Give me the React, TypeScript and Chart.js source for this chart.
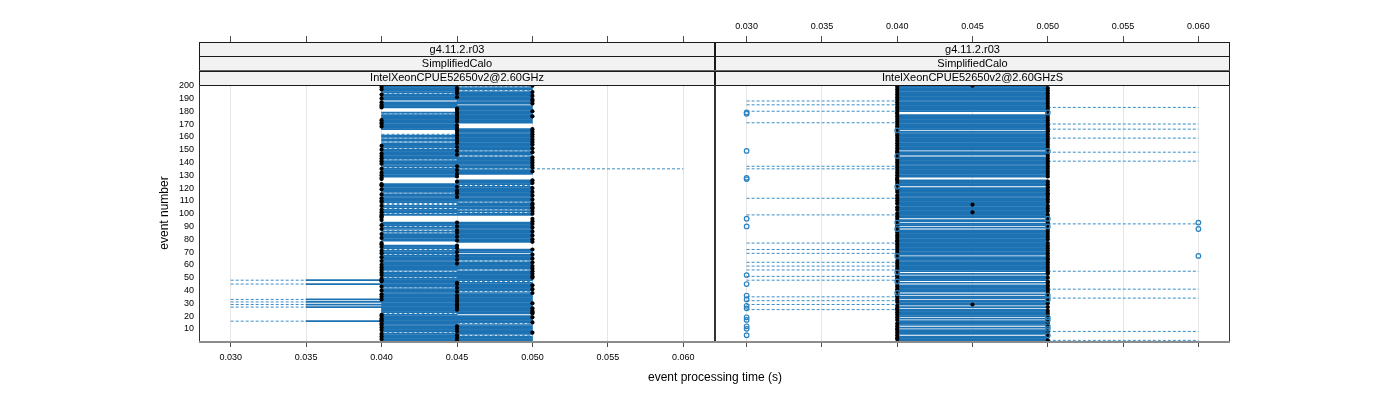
import React, { useEffect, useRef } from "react";
import { Chart, registerables } from "chart.js";

Chart.register(...registerables);

// ---------- categories & ticks ----------
const events: number[] = Array.from({ length: 200 }, (_, i) => i + 1);
const xTickValues = [30, 35, 40, 45, 50, 55, 60]; // ms
const xTickLabels = ["0.030", "0.035", "0.040", "0.045", "0.050", "0.055", "0.060"];
const yTickValues = [10, 20, 30, 40, 50, 60, 70, 80, 90, 100, 110, 120, 130, 140, 150, 160, 170, 180, 190, 200];

const leftStrips = ["g4.11.2.r03", "SimplifiedCalo", "IntelXeonCPUE52650v2@2.60GHz"];
const rightStrips = ["g4.11.2.r03", "SimplifiedCalo", "IntelXeonCPUE52650v2@2.60GHzS"];
const xTitle = "event processing time (s)";
const yTitle = "event number";

// ---------- left panel (values in ms, event 1..200) ----------
const leftBoxLo = [
  40, 40, 40, 40, 40, 40, 45, 40, 40, 40, 40, 40, 40, 40, 40, 35, 40, 40, 40, 40,
  40, 45, 40, 40, 40, 40, 35, 40, 35, 40, 35, 40, 35, 40, 40, 40, 40, 40, 40, 40,
  40, 45, 40, 40, 35, 40, 40, 35, 40, 45, 40, 40, 40, 40, 45, 40, 40, 40, 40, 40,
  40, 40, 40, 40, 40, 40, 40, 45, 40, 40, 40, 45, 40, 40, 40, 40, 40, 45, 40, 40,
  40, 40, 40, 40, 45, 40, 45, 40, 40, 45, 40, 40, 40, 50, 40, 50, 40, 40, 40, 45,
  40, 40, 40, 45, 40, 40, 45, 45, 40, 40, 40, 40, 40, 40, 40, 45, 40, 40, 40, 40,
  40, 40, 40, 45, 45, 45, 40, 40, 40, 40, 40, 40, 40, 40, 40, 45, 40, 40, 40, 40,
  40, 45, 40, 40, 40, 40, 40, 40, 40, 40, 45, 40, 40, 40, 40, 45, 40, 40, 45, 40,
  40, 45, 45, 45, 45, 40, 40, 40, 40, 40, 40, 40, 40, 40, 40, 40, 40, 45, 40, 45,
  45, 45, 40, 40, 40, 40, 40, 45, 40, 40, 40, 40, 40, 45, 40, 40, 40, 40, 40, 45,
];
const leftBoxHi = [
  50, 50, 50, 50, 45, 50, 50, 50, 50, 50, 50, 50, 50, 45, 50, 50, 50, 50, 50, 50,
  45, 50, 50, 50, 50, 50, 50, 50, 50, 50, 50, 50, 50, 50, 50, 50, 50, 50, 45, 50,
  50, 50, 50, 50, 50, 50, 45, 50, 50, 50, 50, 50, 50, 50, 50, 45, 50, 50, 50, 50,
  50, 50, 45, 50, 50, 50, 50, 50, 45, 50, 50, 50, 45, 45, 45, 40, 40, 50, 50, 50,
  50, 50, 50, 50, 50, 50, 50, 50, 50, 50, 50, 50, 50, 50, 40, 50, 40, 40, 50, 50,
  45, 50, 45, 50, 50, 50, 50, 50, 45, 50, 50, 50, 50, 50, 50, 50, 50, 50, 50, 50,
  50, 45, 50, 50, 50, 50, 40, 40, 45, 45, 50, 50, 50, 50, 45, 50, 50, 50, 50, 50,
  50, 50, 50, 50, 45, 50, 50, 50, 45, 50, 50, 50, 50, 50, 50, 50, 50, 50, 50, 50,
  50, 50, 50, 50, 50, 50, 45, 45, 45, 45, 50, 50, 50, 50, 50, 50, 50, 50, 50, 50,
  50, 50, 50, 50, 45, 50, 50, 50, 50, 50, 50, 50, 50, 50, 50, 45, 50, 50, 45, 50,
];
const leftMedian = [
  45, 40, 45, 40, 45, 40, 50, 45, 40, 45, 40, 45, 40, 40, 50, 40, 40, 40, 50, 40,
  40, 50, 50, 50, 45, 50, 45, 45, 45, 50, 45, 45, 40, 45, 40, 45, 40, 50, 45, 40,
  50, 45, 40, 50, 45, 45, 40, 40, 40, 50, 50, 40, 50, 40, 50, 40, 50, 40, 50, 40,
  45, 50, 40, 45, 50, 40, 45, 50, 40, 45, 40, 50, 45, 40, 45, 40, 40, 50, 45, 50,
  40, 45, 50, 40, 45, 50, 45, 40, 50, 45, 40, 50, 45, 50, 40, 50, 40, 40, 40, 50,
  40, 50, 40, 50, 50, 40, 50, 50, 40, 40, 50, 40, 45, 50, 40, 45, 50, 45, 40, 50,
  45, 40, 40, 50, 45, 50, 40, 40, 45, 40, 45, 40, 50, 45, 40, 50, 45, 50, 40, 50,
  40, 50, 40, 50, 40, 45, 40, 50, 45, 40, 50, 45, 40, 50, 45, 50, 45, 50, 45, 50,
  45, 50, 45, 50, 45, 50, 45, 40, 45, 40, 40, 45, 40, 45, 45, 50, 45, 45, 45, 50,
  45, 45, 40, 40, 40, 50, 40, 50, 50, 40, 45, 50, 40, 45, 50, 45, 40, 45, 40, 50,
];
// dashed whisker segments: event, from, to (ms)
const leftWhiskerEvent = [
  5, 14, 39, 47, 56, 63, 101, 103, 109, 122, 135, 145, 149, 196, 199,
  7, 22, 42, 50, 55, 68, 72, 85, 87, 90, 100, 104, 107, 108, 116, 136, 142, 151, 156, 159, 162, 178, 194, 200,
  16, 27, 29, 31, 33, 45, 48,
];
const leftWhiskerFrom = [
  45, 45, 45, 45, 45, 45, 45, 45, 45, 45, 45, 45, 45, 45, 45,
  40, 40, 40, 40, 40, 40, 40, 40, 40, 40, 40, 40, 40, 40, 40, 40, 40, 40, 40, 40, 40, 40, 40, 40,
  30, 30, 30, 30, 30, 30, 30,
];
const leftWhiskerTo = [
  50, 50, 50, 50, 50, 50, 50, 50, 50, 50, 60, 50, 50, 50, 50,
  45, 45, 45, 45, 45, 45, 45, 45, 45, 45, 45, 45, 45, 45, 45, 45, 45, 45, 45, 45, 45, 45, 45, 45,
  35, 35, 35, 35, 35, 35, 35,
];
const leftOutlierEvent: number[] = [];
const leftOutlierValue: number[] = [];

// ---------- right panel ----------
const rightBoxLo = [
  40, 40, 40, 40, 40, 40, 40, 40, 40, 40, 40, 40, 40, 40, 40, 40, 40, 40, 40, 40,
  40, 40, 40, 40, 40, 40, 40, 40, 40, 40, 40, 40, 40, 40, 40, 40, 40, 50, 40, 40,
  40, 40, 40, 40, 40, 40, 50, 40, 40, 40, 40, 40, 40, 50, 40, 40, 40, 40, 40, 40,
  40, 40, 40, 40, 40, 40, 50, 40, 40, 40, 40, 40, 40, 40, 40, 40, 40, 40, 40, 40,
  40, 40, 40, 40, 40, 40, 40, 50, 40, 40, 40, 40, 50, 40, 40, 40, 40, 40, 40, 40,
  40, 40, 40, 40, 40, 40, 40, 40, 40, 40, 40, 40, 40, 40, 40, 40, 40, 40, 40, 40,
  50, 40, 40, 40, 40, 40, 40, 40, 40, 40, 40, 40, 40, 40, 40, 40, 40, 40, 40, 40,
  40, 40, 40, 40, 50, 40, 40, 40, 40, 40, 40, 40, 40, 40, 40, 40, 40, 40, 40, 40,
  40, 40, 40, 40, 50, 40, 40, 40, 40, 40, 40, 40, 40, 40, 40, 40, 40, 40, 40, 40,
  40, 40, 40, 40, 40, 40, 40, 40, 40, 40, 40, 40, 40, 40, 40, 40, 40, 40, 40, 40,
];
const rightBoxHi = [
  50, 50, 50, 50, 40, 50, 50, 50, 50, 40, 50, 40, 50, 50, 50, 50, 40, 50, 40, 50,
  50, 50, 50, 50, 50, 40, 50, 40, 50, 50, 50, 50, 40, 50, 50, 40, 50, 50, 50, 50,
  50, 50, 50, 50, 40, 50, 50, 50, 50, 50, 50, 40, 50, 50, 50, 50, 50, 50, 50, 50,
  50, 50, 50, 50, 50, 50, 50, 50, 50, 50, 50, 50, 50, 50, 50, 50, 50, 50, 50, 50,
  50, 50, 50, 50, 50, 50, 50, 50, 50, 40, 50, 50, 50, 50, 50, 40, 50, 50, 50, 50,
  50, 50, 50, 50, 50, 50, 50, 50, 50, 50, 50, 50, 50, 50, 50, 50, 50, 50, 50, 50,
  50, 50, 50, 50, 50, 50, 40, 40, 50, 50, 50, 50, 50, 50, 50, 50, 50, 50, 50, 50,
  50, 50, 50, 50, 50, 50, 50, 50, 40, 50, 50, 50, 50, 50, 50, 50, 50, 50, 50, 50,
  50, 50, 50, 50, 50, 50, 50, 50, 50, 50, 50, 50, 50, 50, 50, 50, 50, 40, 40, 50,
  50, 50, 50, 50, 50, 50, 50, 50, 50, 50, 50, 50, 50, 50, 50, 50, 50, 50, 50, 50,
];
const rightMedian = [
  50, 40, 40, 50, 40, 50, 40, 50, 40, 40, 50, 40, 50, 40, 50, 50, 40, 50, 40, 50,
  40, 50, 40, 50, 40, 40, 50, 40, 45, 50, 40, 50, 40, 50, 40, 40, 50, 50, 40, 50,
  40, 50, 40, 50, 40, 50, 50, 40, 40, 50, 40, 40, 50, 50, 40, 50, 40, 50, 40, 50,
  40, 50, 40, 50, 50, 40, 50, 40, 50, 40, 50, 40, 50, 40, 50, 40, 50, 40, 40, 50,
  40, 50, 40, 50, 40, 50, 40, 50, 40, 40, 50, 40, 50, 40, 50, 40, 50, 40, 50, 40,
  45, 50, 40, 50, 40, 50, 45, 40, 50, 40, 50, 40, 50, 40, 50, 50, 40, 50, 40, 50,
  50, 40, 50, 40, 50, 40, 40, 40, 50, 40, 50, 40, 50, 40, 50, 40, 50, 40, 50, 40,
  50, 40, 50, 40, 50, 40, 50, 40, 40, 50, 40, 50, 40, 50, 40, 50, 40, 50, 40, 50,
  40, 50, 40, 50, 50, 40, 50, 40, 50, 40, 50, 40, 50, 40, 50, 40, 50, 40, 40, 50,
  40, 50, 40, 50, 40, 50, 40, 50, 40, 50, 40, 50, 40, 50, 40, 50, 40, 50, 40, 45,
];
const rightWhiskerEvent = [
  25, 29, 32, 35, 48, 51, 56, 59, 62, 69, 72, 77, 99, 112, 135, 137, 171, 180, 185, 188,
  1, 8, 34, 41, 55, 92, 141, 148, 159, 166, 170, 183,
];
const rightWhiskerFrom = [
  30, 30, 30, 30, 30, 30, 30, 30, 30, 30, 30, 30, 30, 30, 30, 30, 30, 30, 30, 30,
  50, 50, 50, 50, 50, 50, 50, 50, 50, 50, 50, 50,
];
const rightWhiskerTo = [
  40, 40, 40, 40, 40, 40, 40, 40, 40, 40, 40, 40, 40, 40, 40, 40, 40, 40, 40, 40,
  60, 60, 60, 60, 60, 60, 60, 60, 60, 60, 60, 60,
];
const rightOutlierEvent = [
  5, 10, 12, 17, 19, 26, 28, 33, 36, 45, 52, 90, 96, 127, 128, 149, 178, 179,
  5, 10, 12, 17, 19, 33, 36, 90, 96, 149, 179,
  38, 47, 54, 67, 88, 93, 121, 145, 165,
  67, 88, 93,
];
const rightOutlierValue = [
  30, 30, 30, 30, 30, 30, 30, 30, 30, 30, 30, 30, 30, 30, 30, 30, 30, 30,
  50, 50, 50, 50, 50, 50, 50, 50, 50, 50, 50,
  40, 40, 40, 40, 40, 40, 40, 40, 40,
  60, 60, 60,
];

// ---------- styling ----------
const FONT = "'Liberation Sans', Arial, Helvetica, sans-serif";
const BOX_COLOR = "#1c72b3";
const WHISKER_COLOR = "#3a8dc6";
const OUTLIER_COLOR = "#2a82c0";
const X_MIN = 27.9;
const X_MAX = 62.1;

type PanelData = {
  boxLo: number[];
  boxHi: number[];
  median: number[];
  wEvent: number[];
  wFrom: number[];
  wTo: number[];
  oEvent: number[];
  oValue: number[];
};

function buildDatasets(p: PanelData): any[] {
  const boxes = events.map((e, i) => ({ y: e, x: [p.boxLo[i], p.boxHi[i]] }));
  const whiskers: any[] = [];
  p.wEvent.forEach((e, i) => {
    whiskers.push({ x: p.wFrom[i], y: e });
    whiskers.push({ x: p.wTo[i], y: e });
    whiskers.push({ x: null, y: null });
  });
  const medians = events.map((e, i) => ({ x: p.median[i], y: e }));
  const outliers = p.oEvent.map((e, i) => ({ x: p.oValue[i], y: e }));
  return [
    {
      type: "scatter",
      data: outliers,
      pointRadius: 2.3,
      pointBorderWidth: 1.2,
      pointBorderColor: OUTLIER_COLOR,
      pointBackgroundColor: "rgba(0,0,0,0)",
      order: 0,
    },
    {
      type: "scatter",
      data: medians,
      pointRadius: 2.1,
      pointBorderWidth: 0,
      pointBackgroundColor: "#000000",
      pointBorderColor: "#000000",
      order: 1,
    },
    {
      type: "bar",
      indexAxis: "y",
      data: boxes,
      backgroundColor: BOX_COLOR,
      borderWidth: 0,
      barThickness: 1.05,
      order: 2,
    },
    {
      type: "line",
      data: whiskers,
      borderColor: WHISKER_COLOR,
      borderWidth: 1,
      borderDash: [3, 2],
      pointRadius: 0,
      spanGaps: false,
      fill: false,
      order: 3,
    },
  ];
}

function makeOptions(isLeft: boolean): any {
  return {
    animation: false,
    responsive: false,
    devicePixelRatio: 1,
    events: [],
    layout: {
      padding: isLeft ? { left: 0, right: 1400 - 715, top: 0, bottom: 0 } : { left: 715, right: 1400 - 1230, top: 0, bottom: 0 },
    },
    plugins: { legend: { display: false }, tooltip: { enabled: false }, title: { display: false } },
    scales: {
      x: {
        type: "linear",
        position: "bottom",
        min: X_MIN,
        max: X_MAX,
        offset: false,
        border: { display: false },
        grid: { display: true, drawOnChartArea: true, color: "#e6e6e6", lineWidth: 1, tickColor: "#4d4d4d", tickLength: 6, offset: false },
        ticks: {
          display: isLeft,
          autoSkip: false,
          padding: 5,
          color: "#000000",
          font: { family: FONT, size: 9 },
          maxRotation: 0,
          callback: (_v: any, i: number) => xTickLabels[i],
        },
        afterBuildTicks: (s: any) => {
          s.ticks = xTickValues.map((v) => ({ value: v }));
        },
        afterFit: (s: any) => {
          s.height = 400 - 341;
        },
      },
      xTop: {
        type: "linear",
        position: "top",
        min: X_MIN,
        max: X_MAX,
        offset: false,
        border: { display: false },
        grid: { display: true, drawOnChartArea: false, tickColor: "#4d4d4d", tickLength: 49, offset: false },
        ticks: {
          display: !isLeft,
          autoSkip: false,
          padding: 4,
          color: "#000000",
          font: { family: FONT, size: 9 },
          maxRotation: 0,
          callback: (_v: any, i: number) => xTickLabels[i],
        },
        afterBuildTicks: (s: any) => {
          s.ticks = xTickValues.map((v) => ({ value: v }));
        },
        afterFit: (s: any) => {
          s.height = 85;
        },
      },
      y: {
        type: "linear",
        position: "left",
        display: isLeft,
        min: 0.5,
        max: 200.5,
        offset: false,
        border: { display: false },
        grid: { display: false, drawTicks: false, offset: false },
        ticks: {
          autoSkip: false,
          padding: 5,
          color: "#000000",
          font: { family: FONT, size: 9 },
        },
        afterBuildTicks: (s: any) => {
          s.ticks = yTickValues.map((v) => ({ value: v }));
        },
        afterFit: (s: any) => {
          s.width = isLeft ? 199 : 0;
        },
      },
    },
  };
}

function panelPlugin(strips: string[], isLeft: boolean) {
  return {
    id: "panelDeco" + (isLeft ? "L" : "R"),
    afterDraw(chart: any) {
      const { ctx, chartArea: a } = chart;
      const left = Math.round(a.left);
      const right = Math.round(a.right);
      const top = Math.round(a.top);
      const bottom = Math.round(a.bottom);
      ctx.save();
      // strips
      const stripTop = 42;
      const h = (top - stripTop) / strips.length;
      ctx.font = `11px ${FONT}`;
      ctx.textAlign = "center";
      ctx.textBaseline = "middle";
      strips.forEach((s, i) => {
        const y0 = stripTop + i * h;
        ctx.fillStyle = "#f2f2f2";
        ctx.fillRect(left, y0, right - left, h);
        ctx.strokeStyle = "#1a1a1a";
        ctx.lineWidth = 1;
        ctx.strokeRect(left + 0.5, Math.round(y0) + 0.5, right - left - 1, Math.round(h));
        ctx.fillStyle = "#000000";
        ctx.fillText(s, (left + right) / 2, y0 + h / 2 + 0.5);
      });
      // panel border
      ctx.strokeStyle = "#333333";
      ctx.lineWidth = 1;
      ctx.beginPath();
      ctx.moveTo(left + 0.5, top);
      ctx.lineTo(left + 0.5, bottom);
      ctx.moveTo(right - 0.5, top);
      ctx.lineTo(right - 0.5, bottom);
      ctx.stroke();
      ctx.strokeStyle = "#8c8c8c";
      ctx.lineWidth = 2;
      ctx.beginPath();
      ctx.moveTo(left, bottom + 1);
      ctx.lineTo(right, bottom + 1);
      ctx.stroke();
      if (isLeft) {
        ctx.fillStyle = "#000000";
        ctx.font = `12px ${FONT}`;
        ctx.textAlign = "center";
        ctx.textBaseline = "middle";
        ctx.fillText(xTitle, 715, 378);
        ctx.translate(165, (top + bottom) / 2);
        ctx.rotate(-Math.PI / 2);
        ctx.fillText(yTitle, 0, 0);
      }
      ctx.restore();
    },
  };
}

const leftPanel: PanelData = {
  boxLo: leftBoxLo,
  boxHi: leftBoxHi,
  median: leftMedian,
  wEvent: leftWhiskerEvent,
  wFrom: leftWhiskerFrom,
  wTo: leftWhiskerTo,
  oEvent: leftOutlierEvent,
  oValue: leftOutlierValue,
};
const rightPanel: PanelData = {
  boxLo: rightBoxLo,
  boxHi: rightBoxHi,
  median: rightMedian,
  wEvent: rightWhiskerEvent,
  wFrom: rightWhiskerFrom,
  wTo: rightWhiskerTo,
  oEvent: rightOutlierEvent,
  oValue: rightOutlierValue,
};

export default function App() {
  const leftRef = useRef<HTMLCanvasElement | null>(null);
  const rightRef = useRef<HTMLCanvasElement | null>(null);

  useEffect(() => {
    const charts: Chart[] = [];
    if (leftRef.current) {
      charts.push(
        new Chart(leftRef.current, {
          type: "scatter",
          data: { datasets: buildDatasets(leftPanel) },
          options: makeOptions(true),
          plugins: [panelPlugin(leftStrips, true)],
        } as any)
      );
    }
    if (rightRef.current) {
      charts.push(
        new Chart(rightRef.current, {
          type: "scatter",
          data: { datasets: buildDatasets(rightPanel) },
          options: makeOptions(false),
          plugins: [panelPlugin(rightStrips, false)],
        } as any)
      );
    }
    return () => charts.forEach((c) => c.destroy());
  }, []);

  return (
    <div style={{ position: "absolute", left: 0, top: 0, width: 1400, height: 400, background: "#ffffff" }}>
      <canvas ref={leftRef} width={1400} height={400} style={{ position: "absolute", left: 0, top: 0, width: 1400, height: 400 }} />
      <canvas ref={rightRef} width={1400} height={400} style={{ position: "absolute", left: 0, top: 0, width: 1400, height: 400 }} />
    </div>
  );
}
